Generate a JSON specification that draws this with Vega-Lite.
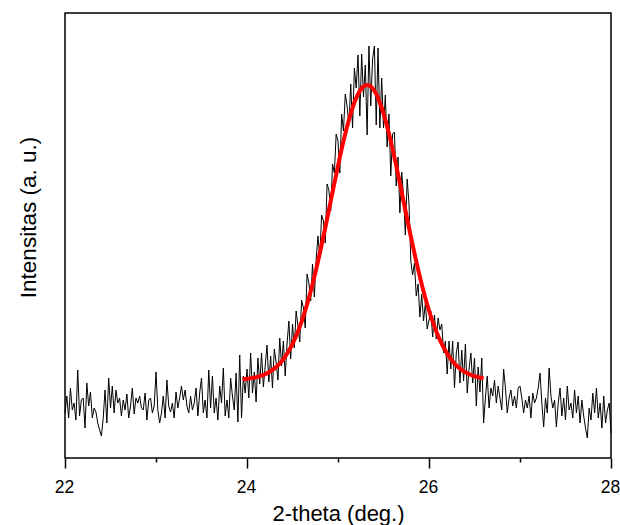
{
  "$schema": "https://vega.github.io/schema/vega-lite/v6.json",
  "width": 546,
  "height": 445,
  "autosize": {"type": "none"},
  "padding": {"left": 65, "top": 13, "right": 9, "bottom": 67},
  "background": "white",
  "config": {
    "view": {"stroke": "#000000", "strokeWidth": 1.5},
    "font": "Liberation Sans"
  },
  "datasets": {
    "scan": [
      {"t":22.00,"v":45},{"t":22.02,"v":62},{"t":22.04,"v":40},{"t":22.06,"v":70},{"t":22.08,"v":48},{"t":22.10,"v":55},{"t":22.12,"v":38},{"t":22.14,"v":88},{"t":22.16,"v":42},{"t":22.18,"v":58},
      {"t":22.20,"v":60},{"t":22.22,"v":30},{"t":22.24,"v":75},{"t":22.26,"v":52},{"t":22.28,"v":66},{"t":22.30,"v":40},{"t":22.32,"v":50},{"t":22.34,"v":46},{"t":22.36,"v":35},{"t":22.38,"v":28},
      {"t":22.40,"v":22},{"t":22.42,"v":40},{"t":22.44,"v":68},{"t":22.46,"v":35},{"t":22.48,"v":80},{"t":22.50,"v":50},{"t":22.52,"v":72},{"t":22.54,"v":45},{"t":22.56,"v":68},{"t":22.58,"v":55},
      {"t":22.60,"v":60},{"t":22.62,"v":42},{"t":22.64,"v":58},{"t":22.66,"v":48},{"t":22.68,"v":64},{"t":22.70,"v":40},{"t":22.72,"v":52},{"t":22.74,"v":70},{"t":22.76,"v":44},{"t":22.78,"v":60},
      {"t":22.80,"v":55},{"t":22.82,"v":62},{"t":22.84,"v":50},{"t":22.86,"v":48},{"t":22.88,"v":65},{"t":22.90,"v":38},{"t":22.92,"v":58},{"t":22.94,"v":60},{"t":22.96,"v":45},{"t":22.98,"v":52},
      {"t":23.00,"v":86},{"t":23.02,"v":48},{"t":23.04,"v":35},{"t":23.06,"v":45},{"t":23.08,"v":62},{"t":23.10,"v":40},{"t":23.12,"v":78},{"t":23.14,"v":52},{"t":23.16,"v":46},{"t":23.18,"v":55},
      {"t":23.20,"v":40},{"t":23.22,"v":66},{"t":23.24,"v":50},{"t":23.26,"v":60},{"t":23.28,"v":72},{"t":23.30,"v":58},{"t":23.32,"v":68},{"t":23.34,"v":52},{"t":23.36,"v":45},{"t":23.38,"v":62},
      {"t":23.40,"v":48},{"t":23.42,"v":55},{"t":23.44,"v":70},{"t":23.46,"v":42},{"t":23.48,"v":65},{"t":23.50,"v":80},{"t":23.52,"v":45},{"t":23.54,"v":58},{"t":23.56,"v":40},{"t":23.58,"v":88},
      {"t":23.60,"v":50},{"t":23.62,"v":82},{"t":23.64,"v":45},{"t":23.66,"v":60},{"t":23.68,"v":38},{"t":23.70,"v":72},{"t":23.72,"v":55},{"t":23.74,"v":90},{"t":23.76,"v":42},{"t":23.78,"v":58},
      {"t":23.80,"v":40},{"t":23.82,"v":80},{"t":23.84,"v":62},{"t":23.86,"v":48},{"t":23.88,"v":85},{"t":23.90,"v":36},{"t":23.92,"v":103},{"t":23.94,"v":40},{"t":23.96,"v":82},{"t":23.98,"v":65},
      {"t":24.00,"v":89},{"t":24.02,"v":60},{"t":24.04,"v":105},{"t":24.06,"v":65},{"t":24.08,"v":86},{"t":24.10,"v":56},{"t":24.12,"v":100},{"t":24.14,"v":74},{"t":24.16,"v":105},{"t":24.18,"v":71},
      {"t":24.20,"v":92},{"t":24.22,"v":113},{"t":24.24,"v":76},{"t":24.26,"v":102},{"t":24.28,"v":70},{"t":24.30,"v":109},{"t":24.32,"v":96},{"t":24.34,"v":78},{"t":24.36,"v":120},{"t":24.38,"v":92},
      {"t":24.40,"v":117},{"t":24.42,"v":82},{"t":24.44,"v":114},{"t":24.46,"v":137},{"t":24.48,"v":99},{"t":24.50,"v":134},{"t":24.52,"v":110},{"t":24.54,"v":147},{"t":24.56,"v":132},{"t":24.58,"v":116},
      {"t":24.60,"v":158},{"t":24.62,"v":150},{"t":24.64,"v":130},{"t":24.66,"v":184},{"t":24.68,"v":175},{"t":24.70,"v":157},{"t":24.72,"v":194},{"t":24.74,"v":161},{"t":24.76,"v":199},{"t":24.78,"v":222},
      {"t":24.80,"v":200},{"t":24.82,"v":243},{"t":24.84,"v":237},{"t":24.86,"v":215},{"t":24.88,"v":274},{"t":24.90,"v":268},{"t":24.92,"v":247},{"t":24.94,"v":294},{"t":24.96,"v":285},{"t":24.98,"v":324},
      {"t":25.00,"v":317},{"t":25.02,"v":285},{"t":25.04,"v":344},{"t":25.06,"v":327},{"t":25.08,"v":364},{"t":25.10,"v":352},{"t":25.12,"v":333},{"t":25.14,"v":374},{"t":25.16,"v":330},{"t":25.18,"v":390},
      {"t":25.20,"v":370},{"t":25.22,"v":403},{"t":25.24,"v":342},{"t":25.26,"v":404},{"t":25.28,"v":361},{"t":25.30,"v":393},{"t":25.32,"v":323},{"t":25.34,"v":412},{"t":25.36,"v":352},{"t":25.38,"v":399},
      {"t":25.40,"v":412},{"t":25.42,"v":333},{"t":25.44,"v":410},{"t":25.46,"v":330},{"t":25.48,"v":380},{"t":25.50,"v":330},{"t":25.52,"v":363},{"t":25.54,"v":311},{"t":25.56,"v":344},{"t":25.58,"v":282},
      {"t":25.60,"v":324},{"t":25.62,"v":326},{"t":25.64,"v":272},{"t":25.66,"v":301},{"t":25.68,"v":245},{"t":25.70,"v":286},{"t":25.72,"v":262},{"t":25.74,"v":223},{"t":25.76,"v":279},{"t":25.78,"v":255},
      {"t":25.80,"v":197},{"t":25.82,"v":183},{"t":25.84,"v":195},{"t":25.86,"v":162},{"t":25.88,"v":174},{"t":25.90,"v":141},{"t":25.92,"v":164},{"t":25.94,"v":137},{"t":25.96,"v":155},{"t":25.98,"v":129},
      {"t":26.00,"v":138},{"t":26.02,"v":147},{"t":26.04,"v":121},{"t":26.06,"v":143},{"t":26.08,"v":119},{"t":26.10,"v":140},{"t":26.12,"v":128},{"t":26.14,"v":134},{"t":26.16,"v":105},{"t":26.18,"v":117},
      {"t":26.20,"v":84},{"t":26.22,"v":117},{"t":26.24,"v":89},{"t":26.26,"v":117},{"t":26.28,"v":70},{"t":26.30,"v":105},{"t":26.32,"v":116},{"t":26.34,"v":75},{"t":26.36,"v":108},{"t":26.38,"v":77},
      {"t":26.40,"v":114},{"t":26.42,"v":65},{"t":26.44,"v":89},{"t":26.46,"v":105},{"t":26.48,"v":75},{"t":26.50,"v":100},{"t":26.52,"v":52},{"t":26.54,"v":91},{"t":26.56,"v":66},{"t":26.58,"v":100},
      {"t":26.60,"v":35},{"t":26.62,"v":60},{"t":26.64,"v":82},{"t":26.66,"v":50},{"t":26.68,"v":70},{"t":26.70,"v":62},{"t":26.72,"v":78},{"t":26.74,"v":55},{"t":26.76,"v":72},{"t":26.78,"v":60},
      {"t":26.80,"v":48},{"t":26.82,"v":89},{"t":26.84,"v":70},{"t":26.86,"v":45},{"t":26.88,"v":60},{"t":26.90,"v":68},{"t":26.92,"v":52},{"t":26.94,"v":62},{"t":26.96,"v":50},{"t":26.98,"v":70},
      {"t":27.00,"v":72},{"t":27.02,"v":60},{"t":27.04,"v":45},{"t":27.06,"v":58},{"t":27.08,"v":50},{"t":27.10,"v":62},{"t":27.12,"v":40},{"t":27.14,"v":65},{"t":27.16,"v":55},{"t":27.18,"v":60},
      {"t":27.20,"v":70},{"t":27.22,"v":85},{"t":27.24,"v":55},{"t":27.26,"v":31},{"t":27.28,"v":60},{"t":27.30,"v":45},{"t":27.32,"v":90},{"t":27.34,"v":62},{"t":27.36,"v":50},{"t":27.38,"v":58},
      {"t":27.40,"v":31},{"t":27.42,"v":55},{"t":27.44,"v":70},{"t":27.46,"v":42},{"t":27.48,"v":60},{"t":27.50,"v":38},{"t":27.52,"v":72},{"t":27.54,"v":48},{"t":27.56,"v":55},{"t":27.58,"v":40},
      {"t":27.60,"v":68},{"t":27.62,"v":45},{"t":27.64,"v":62},{"t":27.66,"v":35},{"t":27.68,"v":58},{"t":27.70,"v":42},{"t":27.72,"v":30},{"t":27.74,"v":20},{"t":27.76,"v":50},{"t":27.78,"v":38},
      {"t":27.80,"v":65},{"t":27.82,"v":45},{"t":27.84,"v":70},{"t":27.86,"v":40},{"t":27.88,"v":55},{"t":27.90,"v":30},{"t":27.92,"v":62},{"t":27.94,"v":35},{"t":27.96,"v":48},{"t":27.98,"v":55},
      {"t":28.00,"v":25}
    ],
    "fit": [
      {"t":23.95,"v":78.8},{"t":24.00,"v":79.3},{"t":24.05,"v":79.9},{"t":24.10,"v":80.8},{"t":24.15,"v":82.1},{"t":24.20,"v":83.9},{"t":24.25,"v":86.2},{"t":24.30,"v":89.4},{"t":24.35,"v":93.6},{"t":24.40,"v":98.9},
      {"t":24.45,"v":105.7},{"t":24.50,"v":114.1},{"t":24.55,"v":124.3},{"t":24.60,"v":136.4},{"t":24.65,"v":150.5},{"t":24.70,"v":166.8},{"t":24.75,"v":184.9},{"t":24.80,"v":204.7},{"t":24.85,"v":225.9},{"t":24.90,"v":248.0},
      {"t":24.95,"v":270.3},{"t":25.00,"v":292.2},{"t":25.05,"v":312.9},{"t":25.10,"v":331.6},{"t":25.15,"v":347.5},{"t":25.20,"v":360.0},{"t":25.25,"v":368.5},{"t":25.30,"v":372.6},{"t":25.32,"v":373.0},{"t":25.35,"v":372.2},
      {"t":25.40,"v":367.2},{"t":25.45,"v":357.8},{"t":25.50,"v":344.6},{"t":25.55,"v":328.0},{"t":25.60,"v":308.9},{"t":25.65,"v":287.9},{"t":25.70,"v":265.9},{"t":25.75,"v":243.5},{"t":25.80,"v":221.6},{"t":25.85,"v":200.6},
      {"t":25.90,"v":181.1},{"t":25.95,"v":163.3},{"t":26.00,"v":147.5},{"t":26.05,"v":133.8},{"t":26.10,"v":122.1},{"t":26.15,"v":112.3},{"t":26.20,"v":104.2},{"t":26.25,"v":97.8},{"t":26.30,"v":92.7},{"t":26.35,"v":88.7},
      {"t":26.40,"v":85.7},{"t":26.45,"v":83.5},{"t":26.50,"v":81.8},{"t":26.55,"v":80.6},{"t":26.60,"v":79.8}
    ]
  },
  "layer": [
    {
      "data": {"name": "scan"},
      "mark": {"type": "line", "color": "#000000", "strokeWidth": 1, "interpolate": "linear"},
      "encoding": {
        "x": {
          "field": "t", "type": "quantitative",
          "scale": {"domain": [22, 28], "nice": false, "zero": false},
          "axis": {
            "orient": "bottom",
            "values": [22, 24, 26, 28], "format": "d",
            "domain": false, "grid": false,
            "tickSize": 10, "tickColor": "#000000", "tickWidth": 1.5,
            "labelFontSize": 17.5, "labelColor": "#000000", "labelFont": "Liberation Sans",
            "labelBaseline": "alphabetic", "labelPadding": 24, "labelFlush": false, "labelOffset": -1,
            "title": "2-theta (deg.)", "titleFontSize": 22, "titleFontWeight": "normal",
            "titleColor": "#000000", "titleFont": "Liberation Sans",
            "titleBaseline": "alphabetic", "titleY": 62
          }
        },
        "y": {
          "field": "v", "type": "quantitative",
          "scale": {"domain": [0, 445], "nice": false, "zero": false},
          "axis": {
            "orient": "left",
            "domain": false, "grid": false, "ticks": false, "labels": false,
            "title": "Intensitas (a. u.)", "titleFontSize": 22.5, "titleFontWeight": "normal",
            "titleColor": "#000000", "titleFont": "Liberation Sans",
            "titleBaseline": "alphabetic", "titleX": -30, "titleY": 204, "titleAngle": 270
          }
        }
      }
    },
    {
      "data": {"name": "fit"},
      "mark": {"type": "line", "color": "#ff0000", "strokeWidth": 4, "interpolate": "monotone"},
      "encoding": {
        "x": {
          "field": "t", "type": "quantitative",
          "axis": {
            "orient": "bottom",
            "values": [23, 25, 27], "domain": false, "grid": false, "labels": false,
            "tickSize": 4, "tickColor": "#000000", "tickWidth": 1.5, "title": null
          }
        },
        "y": {"field": "v", "type": "quantitative", "axis": null}
      }
    }
  ],
  "resolve": {"axis": {"x": "independent", "y": "independent"}}
}
